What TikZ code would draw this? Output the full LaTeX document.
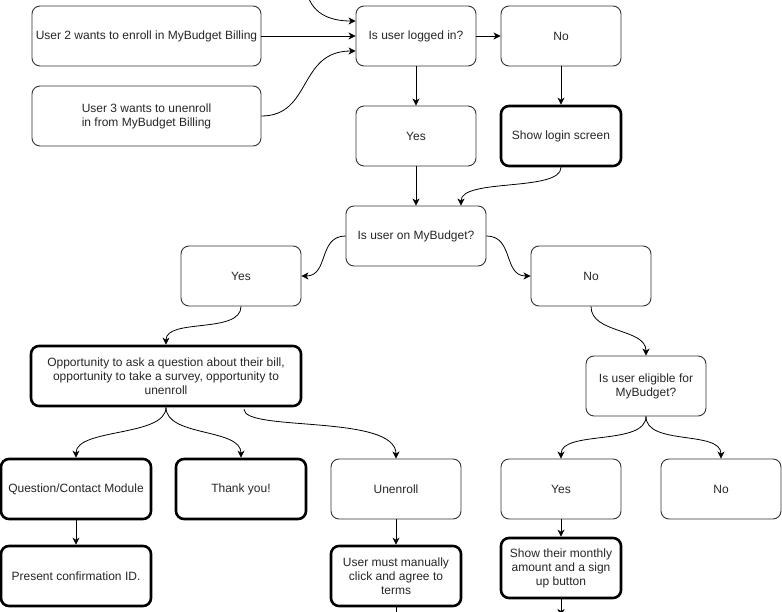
\documentclass[tikz,border=0pt]{standalone}
\usepackage{fontspec}
\setmainfont{Liberation Sans}
\usetikzlibrary{arrows.meta}
\begin{document}
\begin{tikzpicture}[x=1pt,y=-1pt,
  box/.style={draw=black!80, line width=0.9pt, rounded corners=8pt, align=center,
    font=\fontsize{12}{14}\selectfont, text=black!85, inner sep=2pt,
    minimum width=120pt, minimum height=60pt},
  thickbox/.style={box, draw=black, line width=2.6pt},
  conn/.style={draw=black, line width=0.8pt, -{Stealth[length=7pt,width=7pt,inset=2pt]}}
]
\useasboundingbox (0,0) rectangle (782,612);
\fill[white] (0,0) rectangle (782,612);

% nodes
\node[box, minimum width=229pt] (u2) at (146.5,36) {User 2 wants to enroll in MyBudget Billing};
\node[box, minimum width=229pt] (u3) at (146.5,116) {User 3 wants to unenroll\\in from MyBudget Billing};
\node[box] (li) at (416,36) {Is user logged in?};
\node[box] (no1) at (561,36) {No};
\node[box] (yes1) at (416,136) {Yes};
\node[thickbox] (login) at (561,136) {Show login screen};
\node[box, minimum width=140pt] (onmb) at (416,236) {Is user on MyBudget?};
\node[box] (yes2) at (241,276) {Yes};
\node[box] (no2) at (591,276) {No};
\node[thickbox, minimum width=270pt] (opp) at (166,376) {Opportunity to ask a question about their bill,\\opportunity to take a survey, opportunity to\\unenroll};
\node[thickbox, minimum width=150pt] (q) at (76,489) {Question/Contact Module};
\node[thickbox, minimum width=130pt] (ty) at (241,489) {Thank you!};
\node[box, minimum width=130pt] (un) at (396,489) {Unenroll};
\node[thickbox, minimum width=150pt] (pc) at (76,576) {Present confirmation ID.};
\node[thickbox, minimum width=130pt] (um) at (396,576) {User must manually\\click and agree to\\terms};
\node[box] (elig) at (646,386) {Is user eligible for\\MyBudget?};
\node[box] (yes3) at (561,489) {Yes};
\node[box] (no3) at (721,489) {No};
\node[thickbox] (sm) at (561,568) {Show their monthly\\amount and a sign\\up button};

\coordinate (topsrc) at (306,-12);
\coordinate (smout) at (561,616);
\coordinate (umout) at (396,624);

% connectors
\draw[conn] (topsrc) .. controls (310,14) and (330,21) .. ([yshift=15pt]li.west);
\draw[conn] (u2.east) -- (li.west);
\draw[conn] (u3.east) .. controls (312,116) and (298,51) .. ([yshift=-15pt]li.west);
\draw[conn] (li.east) -- (no1.west);
\draw[conn] (li.south) -- (yes1.north);
\draw[conn] (no1.south) -- (login.north);
\draw[conn] (yes1.south) -- (onmb.north);
\draw[conn] (login.south) .. controls (561,192) and (461,178) .. ([xshift=45pt]onmb.north);
\draw[conn] (onmb.west) .. controls (318,236) and (329,276) .. (yes2.east);
\draw[conn] (onmb.east) .. controls (514,236) and (503,276) .. (no2.west);
\draw[conn] (yes2.south) .. controls (241,334) and (166,318) .. (opp.north);
\draw[conn] (no2.south) .. controls (591,334) and (646,328) .. (elig.north);
\draw[conn] (opp.south) .. controls (166,437) and (76,428) .. (q.north);
\draw[conn] (opp.south) .. controls (166,437) and (241,428) .. (ty.north);
\draw[conn] ([xshift=78pt,yshift=-2pt]opp.south) .. controls (244,432) and (396,414) .. (un.north);
\draw[conn] (q.south) -- (pc.north);
\draw[conn] (un.south) -- (um.north);
\draw[conn] (elig.south) .. controls (646,446) and (561,430) .. (yes3.north);
\draw[conn] (elig.south) .. controls (646,446) and (721,430) .. (no3.north);
\draw[conn] (yes3.south) -- (sm.north);
\draw[conn] (sm.south) -- (smout);
\draw[conn] (um.south) -- (umout);
\end{tikzpicture}
\end{document}
